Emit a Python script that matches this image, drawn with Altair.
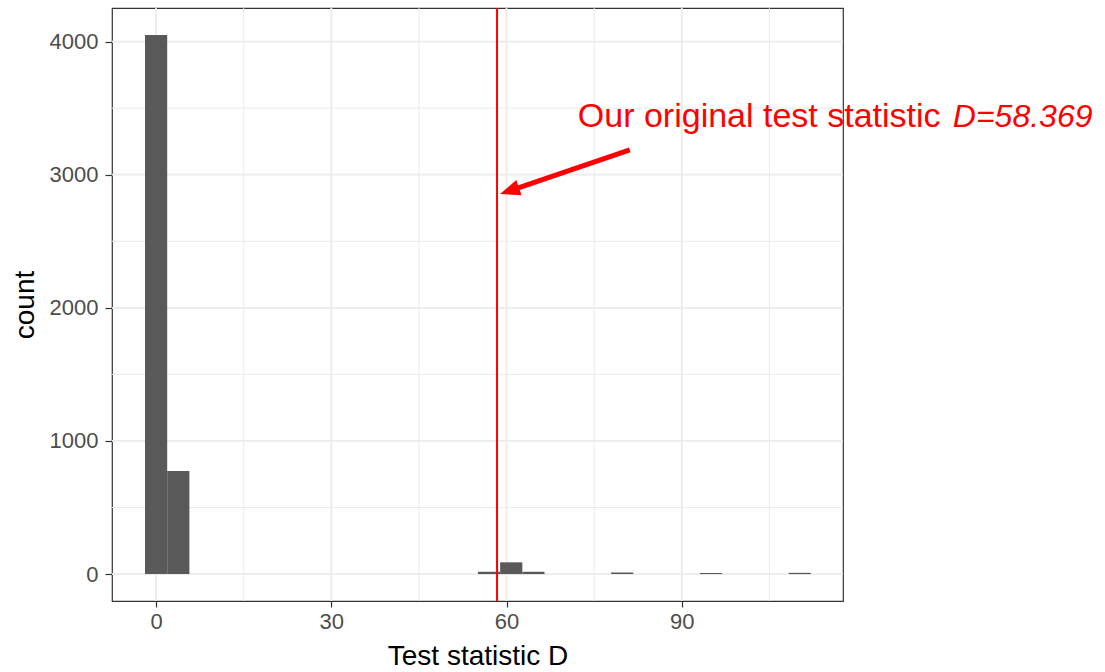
import altair as alt
import pandas as pd

# ---- data ----
bin_centers = [0.0, 3.8, 57.0, 60.8, 64.6, 79.8, 95.0, 110.2]
bin_counts = [4050, 775, 17, 88, 17, 12, 8, 9]
bin_width = 3.8

x_ticks = [0, 30, 60, 90]
x_minor = [15, 45, 75, 105]
y_ticks = [0, 1000, 2000, 3000, 4000]
y_minor = [500, 1500, 2500, 3500]

observed_D = 58.369
label_main = "Our original test statistic"
label_value = "D=58.369"

# annotation anchor positions (data units)
text_x, text_y = 72.2, 3358
value_x = 136.4
arrow_tail = (81.1, 3186)
arrow_head = (60.5, 2879)

x_domain = [-7.55, 117.6]
y_domain = [-202.5, 4252.5]

bars = pd.DataFrame({
    "x0": [c - bin_width / 2 for c in bin_centers],
    "x1": [c + bin_width / 2 for c in bin_centers],
    "count": bin_counts,
})

xs = alt.Scale(domain=x_domain, nice=False, zero=False)
ys = alt.Scale(domain=y_domain, nice=False, zero=False)

FONT = "Liberation Sans"

xaxis = alt.Axis(values=x_ticks, title="Test statistic D", grid=False, domain=False,
                 tickColor="#333333", tickSize=6, tickWidth=1.2,
                 labelFontSize=22, labelColor="#4D4D4D", labelFont=FONT, labelPadding=4,
                 titleFontSize=28, titleFont=FONT, titleColor="black",
                 titleFontWeight="normal", titlePadding=10)
yaxis = alt.Axis(values=y_ticks, format="d", title="count", grid=False, domain=False,
                 tickColor="#333333", tickSize=7, tickWidth=1.2,
                 labelFontSize=22, labelColor="#4D4D4D", labelFont=FONT, labelPadding=7,
                 titleFontSize=28, titleFont=FONT, titleColor="black",
                 titleFontWeight="normal", titlePadding=10)

gx_major = alt.Chart(pd.DataFrame({"v": x_ticks})).mark_rule(color="#EBEBEB", strokeWidth=1.8).encode(
    x=alt.X("v:Q", scale=xs, axis=xaxis))
gx_minor = alt.Chart(pd.DataFrame({"v": x_minor})).mark_rule(color="#EBEBEB", strokeWidth=1).encode(
    x=alt.X("v:Q", scale=xs))
gy_major = alt.Chart(pd.DataFrame({"v": y_ticks})).mark_rule(color="#EBEBEB", strokeWidth=1.8).encode(
    y=alt.Y("v:Q", scale=ys, axis=yaxis))
gy_minor = alt.Chart(pd.DataFrame({"v": y_minor})).mark_rule(color="#EBEBEB", strokeWidth=1).encode(
    y=alt.Y("v:Q", scale=ys))

hist = alt.Chart(bars).mark_rect(color="#595959").encode(
    x=alt.X("x0:Q", scale=xs),
    x2="x1:Q",
    y=alt.Y("count:Q", scale=ys),
    y2=alt.datum(0),
)

vline = alt.Chart(pd.DataFrame({"v": [observed_D]})).mark_rule(color="#FF0000", strokeWidth=2).encode(
    x=alt.X("v:Q", scale=xs))

ann = pd.DataFrame({"x": [text_x], "y": [text_y], "x2": [value_x],
                    "t1": [label_main], "t2": [label_value]})
txt1 = alt.Chart(ann).mark_text(align="left", baseline="alphabetic", fontSize=34, font=FONT,
                                color="#FF0000").encode(
    x=alt.X("x:Q", scale=xs), y=alt.Y("y:Q", scale=ys), text="t1:N")
txt2 = alt.Chart(ann).mark_text(align="left", baseline="alphabetic", fontSize=32, font=FONT,
                                fontStyle="italic", color="#FF0000").encode(
    x=alt.X("x2:Q", scale=xs), y=alt.Y("y:Q", scale=ys), text="t2:N")

arrow_df = pd.DataFrame({"xt": [arrow_tail[0]], "yt": [arrow_tail[1]],
                         "xh": [arrow_head[0]], "yh": [arrow_head[1]]})
shaft = alt.Chart(arrow_df).mark_rule(color="#FF0000", strokeWidth=5).encode(
    x=alt.X("xt:Q", scale=xs), y=alt.Y("yt:Q", scale=ys), x2="xh:Q", y2="yh:Q")
head = alt.Chart(arrow_df).mark_point(shape="M -1 0 L 1 -0.8 L 1 0.8 Z", filled=True, size=400,
                                      angle=341, color="#FF0000", opacity=1, strokeWidth=0).encode(
    x=alt.X("xh:Q", scale=xs), y=alt.Y("yh:Q", scale=ys))

chart = alt.layer(gx_minor, gy_minor, gx_major, gy_major, hist, vline, shaft, head, txt1, txt2).properties(
    width=731, height=593,
    autosize=alt.AutoSizeParams(type="none"),
    padding={"left": 112, "top": 8, "right": 262, "bottom": 71},
    background="white",
).configure_view(stroke="#333333", strokeWidth=1.2)

chart.save("out.html", embed_options={"renderer": "svg", "actions": False})
